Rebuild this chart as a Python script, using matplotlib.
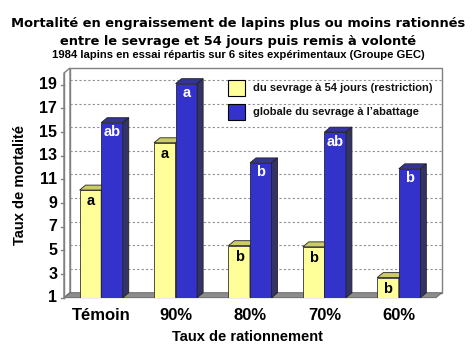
import matplotlib
matplotlib.use("Agg")
import matplotlib.pyplot as plt
from matplotlib.patches import Polygon, Rectangle

categories = ["Témoin", "90%", "80%", "70%", "60%"]
restriction = [10.1, 14.1, 5.4, 5.3, 2.7]
globale = [15.8, 19.1, 12.4, 15.0, 11.9]
lab_restr = ["a", "a", "b", "b", "b"]
lab_glob = ["ab", "a", "b", "ab", "b"]
yticks = [1, 3, 5, 7, 9, 11, 13, 15, 17, 19]
legend_labels = ["du sevrage à 54 jours (restriction)", "globale du sevrage à l\u2019abattage"]

W, H = 476, 350
fig = plt.figure(figsize=(W / 100, H / 100), dpi=100)
fig.patch.set_facecolor("white")
ax = fig.add_axes([64 / W, (H - 297.7) / H, 372 / W, (297.7 - 73) / H])
ax.set_xlim(-0.5, 4.5)
ax.set_ylim(1, 20)
ax.axis("off")

dx, dy = 0.08, 0.42
x0, x1 = -0.5, 4.5
y0, y1 = 1, 20
grey = "#808080"

# back wall
ax.add_patch(Polygon([(x0 + dx, y0 + dy), (x1 + dx, y0 + dy), (x1 + dx, y1 + dy), (x0 + dx, y1 + dy)],
                     closed=True, facecolor="white", edgecolor=grey, lw=1.0, clip_on=False, zorder=0))
# left side wall
ax.add_patch(Polygon([(x0, y0), (x0 + dx, y0 + dy), (x0 + dx, y1 + dy), (x0, y1)],
                     closed=True, facecolor="white", edgecolor=grey, lw=1.0, clip_on=False, zorder=0.5))
# gridlines on back wall
for t in yticks[1:]:
    ax.plot([x0 + dx, x1 + dx], [t + dy, t + dy], ls=(0, (2, 2)), color="#909090", lw=0.8,
            clip_on=False, zorder=0.6)
# floor
ax.add_patch(Polygon([(x0, y0), (x1, y0), (x1 + dx, y0 + dy), (x0 + dx, y0 + dy)],
                     closed=True, facecolor="#8c8c8c", edgecolor="#606060", lw=0.6, clip_on=False, zorder=0.7))
# left front axis line and ticks
ax.plot([x0, x0], [y0, y1], color=grey, lw=1.0, clip_on=False, zorder=3)
for t in yticks:
    ax.plot([x0 - 0.04, x0], [t, t], color=grey, lw=1.0, clip_on=False, zorder=3)
    ax.text(x0 - 0.09, t, str(t), ha="right", va="center", fontsize=11.5, fontweight="bold",
            family="Liberation Sans")

bw = 0.29
xs = list(range(len(categories)))

def draw_3d(bars, top, side, zo):
    for b in bars:
        bx, bwid, bh = b.get_x(), b.get_width(), b.get_height()
        yb = b.get_y()
        ytop = yb + bh
        ax.add_patch(Polygon([(bx, ytop), (bx + bwid, ytop), (bx + bwid + dx, ytop + dy), (bx + dx, ytop + dy)],
                             closed=True, facecolor=top, edgecolor="#222222", lw=0.6, zorder=zo, clip_on=False))
        ax.add_patch(Polygon([(bx + bwid, yb), (bx + bwid + dx, yb + dy), (bx + bwid + dx, ytop + dy), (bx + bwid, ytop)],
                             closed=True, facecolor=side, edgecolor="#222222", lw=0.6, zorder=zo, clip_on=False))

for i in xs:
    by = ax.bar([i - bw], [restriction[i] - 1], width=bw, bottom=1, align="edge",
                color="#FFFF99", edgecolor="#333333", lw=0.6, zorder=1 + i * 2)
    draw_3d(by, "#CCCC66", "#999955", 1 + i * 2)
    bb = ax.bar([i], [globale[i] - 1], width=bw, bottom=1, align="edge",
                color="#3333CC", edgecolor="#222244", lw=0.6, zorder=2 + i * 2)
    draw_3d(bb, "#333399", "#333366", 2 + i * 2)
    ax.text(i - bw / 2, restriction[i] - 0.95, lab_restr[i], ha="center", va="center",
            fontsize=10.5, fontweight="bold", color="black", family="Liberation Sans", zorder=20)
    ax.text(i + bw / 2, globale[i] - 0.8, lab_glob[i], ha="center", va="center",
            fontsize=10.5, fontweight="bold", color="white", family="Liberation Sans", zorder=20)

# x tick labels
for i, c in enumerate(categories):
    ax.text(i, -0.5, c, ha="center", va="center", fontsize=12, fontweight="bold",
            family="Liberation Sans", clip_on=False)

# legend
for k, (col, lab) in enumerate(zip(["#FFFF99", "#3333CC"], legend_labels)):
    yc = 88 + k * 24
    fig.patches.append(Rectangle((228 / W, (H - yc - 8) / H), 17 / W, 16 / H,
                                 transform=fig.transFigure, facecolor=col,
                                 edgecolor="black", lw=0.8, zorder=30))
    fig.text(253 / W, (H - yc) / H, lab, ha="left", va="center", fontsize=8, fontweight="bold",
             family="Liberation Sans", color="#111111")

# titles
fig.text(0.5, (H - 24) / H, "Mortalité en engraissement de lapins plus ou moins rationnés",
         ha="center", va="center", fontsize=9.4, fontweight="bold", family="DejaVu Sans")
fig.text(0.5, (H - 41) / H, "entre le sevrage et 54 jours puis remis à volonté",
         ha="center", va="center", fontsize=9.4, fontweight="bold", family="DejaVu Sans")
fig.text(0.5, (H - 55) / H, "1984 lapins en essai répartis sur 6 sites expérimentaux (Groupe GEC)",
         ha="center", va="center", fontsize=8.1, fontweight="bold", family="Liberation Sans")
fig.text(247 / W, (H - 337) / H, "Taux de rationnement", ha="center", va="center",
         fontsize=10.5, fontweight="bold", family="Liberation Sans")
fig.text(20 / W, (H - 185) / H, "Taux de mortalité", ha="center", va="center", rotation=90,
         fontsize=10.5, fontweight="bold", family="Liberation Sans")

fig.savefig("out.png", dpi=100, facecolor="white")
